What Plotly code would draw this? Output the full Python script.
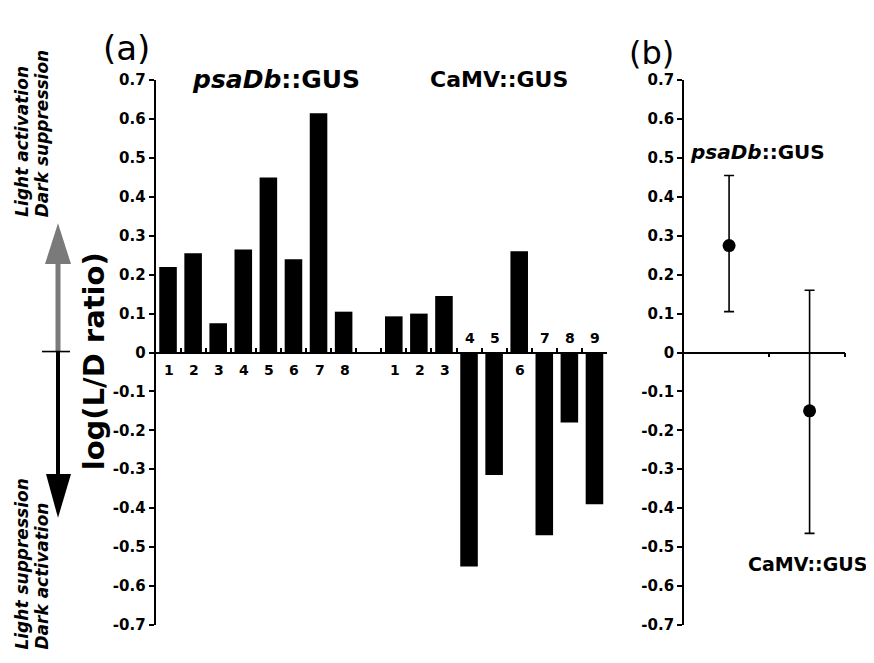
import plotly.graph_objects as go

# ---------------- data ----------------
psa_labels = ["1", "2", "3", "4", "5", "6", "7", "8"]
psa_values = [0.22, 0.255, 0.075, 0.265, 0.45, 0.24, 0.615, 0.105]
camv_labels = ["1", "2", "3", "4", "5", "6", "7", "8", "9"]
camv_values = [0.093, 0.10, 0.145, -0.55, -0.315, 0.26, -0.47, -0.18, -0.39]

summary_names = ["psaDb::GUS", "CaMV::GUS"]
summary_mean = [0.275, -0.15]
summary_upper = [0.455, 0.16]
summary_lower = [0.105, -0.465]

y_tickvals = [0.7, 0.6, 0.5, 0.4, 0.3, 0.2, 0.1, 0, -0.1, -0.2, -0.3, -0.4, -0.5, -0.6, -0.7]
y_ticktext = ["0.7", "0.6", "0.5", "0.4", "0.3", "0.2", "0.1", "0",
              "-0.1", "-0.2", "-0.3", "-0.4", "-0.5", "-0.6", "-0.7"]

# page body has an 8px margin: figure is drawn 8px smaller and coordinates offset
OFF = 8
W, H = 874 - OFF, 663 - OFF
FONT = "DejaVu Sans"


def px(x):
    return (x - OFF) / W


def py(y):
    return 1 - (y - OFF) / H


# slot positions (one empty slot between the two groups)
psa_x = list(range(len(psa_values)))
camv_x = [len(psa_values) + 1 + i for i in range(len(camv_values))]
n_slots = len(psa_values) + 1 + len(camv_values)

fig = go.Figure()

fig.add_trace(go.Bar(x=psa_x, y=psa_values, marker=dict(color="black", line=dict(width=0)),
                     width=0.7, xaxis="x", yaxis="y", showlegend=False))
fig.add_trace(go.Bar(x=camv_x, y=camv_values, marker=dict(color="black", line=dict(width=0)),
                     width=0.7, xaxis="x", yaxis="y", showlegend=False))

err_plus = [u - m for u, m in zip(summary_upper, summary_mean)]
err_minus = [m - l for m, l in zip(summary_mean, summary_lower)]
fig.add_trace(go.Scatter(
    x=list(range(len(summary_names))), y=summary_mean, mode="markers",
    marker=dict(color="black", size=13),
    error_y=dict(type="data", symmetric=False, array=err_plus, arrayminus=err_minus,
                 color="black", thickness=1.6, width=5),
    xaxis="x2", yaxis="y2", showlegend=False))

ydom = [py(633), py(73)]
zero_pos = (ydom[0] + ydom[1]) / 2

yaxis_common = dict(range=[-0.7, 0.7], tickvals=y_tickvals, ticktext=y_ticktext,
                    showgrid=False, zeroline=False, showline=True, linecolor="black",
                    linewidth=1.8, ticks="outside", ticklen=5, tickwidth=1.6,
                    tickcolor="black",
                    tickfont=dict(family=FONT, size=15, color="black", weight="bold"),
                    domain=ydom, fixedrange=True)

fig.update_layout(
    width=W, height=H,
    margin=dict(l=0, r=0, t=0, b=0),
    paper_bgcolor="white", plot_bgcolor="rgba(0,0,0,0)",
    bargap=0.3,
    xaxis=dict(domain=[px(155.5), px(607)], range=[-0.5, n_slots - 0.5],
               anchor="free", position=zero_pos, showline=True, linecolor="black",
               linewidth=1.8, showgrid=False, zeroline=False,
               tickvals=[i + 0.5 for i in range(n_slots)], ticks="inside",
               ticklen=4, tickwidth=1.5, tickcolor="black", showticklabels=False),
    yaxis=dict(anchor="x", **yaxis_common),
    xaxis2=dict(domain=[px(684), px(845)], range=[-0.56, 1.44],
                anchor="free", position=zero_pos, showline=True, linecolor="black",
                linewidth=1.8, showgrid=False, zeroline=False,
                tickvals=[0.5, 1.44], ticks="outside", ticklen=4, tickwidth=1.6,
                tickcolor="black", showticklabels=False),
    yaxis2=dict(anchor="x2", **yaxis_common),
)

ann = []
# bar labels
for xs, vals, labs in [(psa_x, psa_values, psa_labels), (camv_x, camv_values, camv_labels)]:
    for x, v, lab in zip(xs, vals, labs):
        ann.append(dict(x=x, y=0, xref="x", yref="y", text=lab, showarrow=False,
                        yshift=-17 if v >= 0 else 15, xshift=1,
                        font=dict(family=FONT, size=14, color="black", weight="bold")))


def text(x, y, t, size, xanchor="left", yanchor="middle", angle=0, weight="bold", style="normal"):
    ann.append(dict(x=px(x), y=py(y), xref="paper", yref="paper", text=t, showarrow=False,
                    xanchor=xanchor, yanchor=yanchor, textangle=angle,
                    font=dict(family=FONT, size=size, color="black", weight=weight, style=style)))


text(126, 40, "(a)", 34, xanchor="center", weight="normal")
text(651, 45, "(b)", 32, xanchor="center", weight="normal")
text(190, 72, "<i>psaDb</i>::GUS", 25)
text(428, 72, "CaMV::GUS", 22)
text(688, 147, "<i>psaDb</i>::GUS", 20)
text(746, 570, "CaMV::GUS", 19)
text(94, 362, "log(L/D ratio)", 29, xanchor="center", angle=-90)
text(22, 216, "Light activation", 17, xanchor="center", yanchor="bottom", angle=-90, style="italic")
text(42, 216, "Dark suppression", 17, xanchor="center", yanchor="bottom", angle=-90, style="italic")
text(22, 661, "Light suppression", 17, xanchor="center", yanchor="bottom", angle=-90, style="italic")
text(42, 661, "Dark activation", 17, xanchor="center", yanchor="bottom", angle=-90, style="italic")

fig.update_layout(annotations=ann)

shapes = [
    # gray up arrow
    dict(type="line", xref="paper", yref="paper", x0=px(58), x1=px(58), y0=py(352), y1=py(255),
         line=dict(color="#7a7a7a", width=5)),
    dict(type="path", xref="paper", yref="paper",
         path=f"M {px(45)},{py(262)} L {px(71)},{py(262)} L {px(58)},{py(220)} Z",
         fillcolor="#7a7a7a", line=dict(width=0)),
    # black down arrow
    dict(type="line", xref="paper", yref="paper", x0=px(58), x1=px(58), y0=py(352), y1=py(485),
         line=dict(color="black", width=4)),
    dict(type="path", xref="paper", yref="paper",
         path=f"M {px(46)},{py(478)} L {px(71)},{py(478)} L {px(58)},{py(523)} Z",
         fillcolor="black", line=dict(width=0)),
    # crossing mark
    dict(type="line", xref="paper", yref="paper", x0=px(42), x1=px(70), y0=py(352), y1=py(352),
         line=dict(color="black", width=1.6)),
]
fig.update_layout(shapes=shapes)

fig.write_html("out.html")
